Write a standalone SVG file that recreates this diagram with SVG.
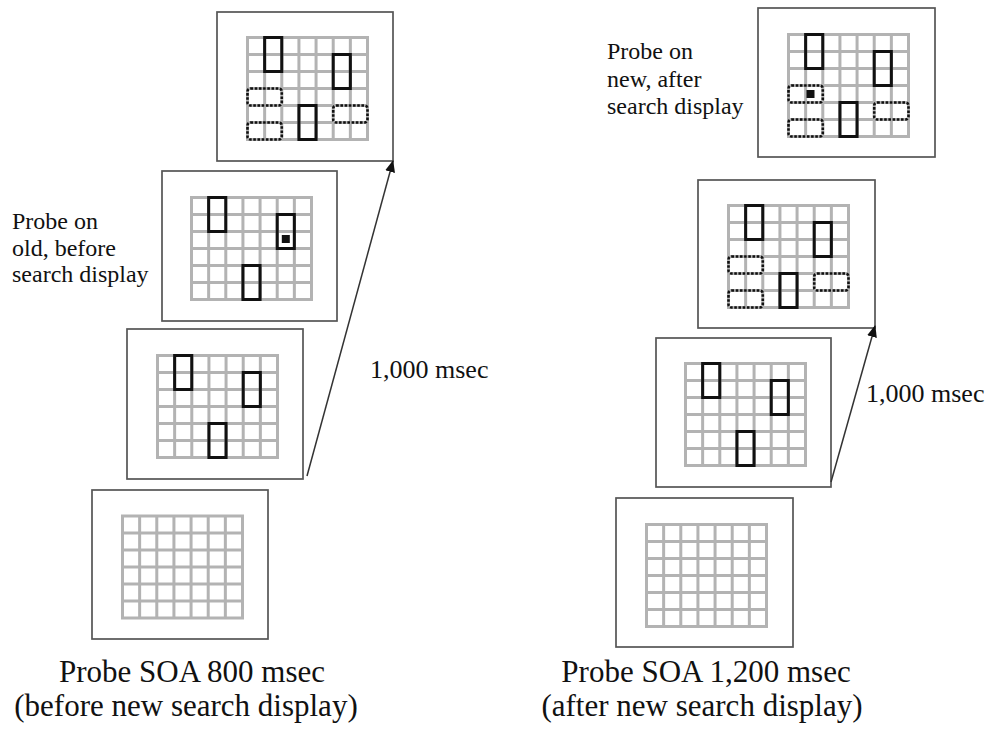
<svg xmlns="http://www.w3.org/2000/svg" xmlns:xlink="http://www.w3.org/1999/xlink" width="991" height="730" viewBox="0 0 991 730">
<style>
.frame{fill:#fff;stroke:#555;stroke-width:1.7}
.grid{fill:none;stroke:#b3b3b3;stroke-width:3}
.item{fill:none;stroke:#111;stroke-width:3}
.dot{fill:none;stroke:#111;stroke-width:2.6;stroke-dasharray:2.6 1.6}
.probe{fill:#111}
.conn{fill:none;stroke:#333;stroke-width:1.5}
text{font-family:"Liberation Serif","Times New Roman",serif;fill:#111}
.lab{font-size:24px}
.ms{font-size:26px}
.cap{font-size:31px;text-anchor:middle}
</style>
<defs>
<g id="g">
<path class="grid" d="M1.5 0V105M18.64 0V105M35.79 0V105M52.93 0V105M70.07 0V105M87.21 0V105M104.36 0V105M121.5 0V105M0 1.5H123M0 18.5H123M0 35.5H123M0 52.5H123M0 69.5H123M0 86.5H123M0 103.5H123"/>
</g>
<g id="items">
<rect class="item" x="18.64" y="1.5" width="17.14" height="34"/>
<rect class="item" x="87.21" y="18.5" width="17.14" height="34"/>
<rect class="item" x="52.93" y="69.5" width="17.14" height="34"/>
</g>
<g id="dots">
<rect class="dot" x="1.5" y="52.5" width="34.29" height="17" rx="3"/>
<rect class="dot" x="1.5" y="86.5" width="34.29" height="17" rx="3"/>
<rect class="dot" x="87.21" y="69.5" width="34.29" height="17" rx="3"/>
</g>
<marker id="ah" markerWidth="12" markerHeight="10" refX="11" refY="5" orient="auto" markerUnits="userSpaceOnUse">
<path d="M0 0L12 5L0 10Z" fill="#111"/>
</marker>
</defs>

<g id="left-blank">
<rect class="frame" x="92" y="490" width="176" height="149"/>
<use xlink:href="#g" x="121" y="514.5"/>
</g>
<g id="left-first">
<rect class="frame" x="127" y="329" width="176" height="150"/>
<use xlink:href="#g" x="156" y="354"/>
<use xlink:href="#items" x="156" y="354"/>
</g>
<g id="left-probe">
<rect class="frame" x="162" y="171" width="175" height="150"/>
<use xlink:href="#g" x="190" y="196"/>
<use xlink:href="#items" x="190" y="196"/>
<rect class="probe" x="281.8" y="235" width="8" height="8"/>
</g>
<g id="left-new">
<rect class="frame" x="217" y="12" width="176" height="149"/>
<use xlink:href="#g" x="246" y="36"/>
<use xlink:href="#items" x="246" y="36"/>
<use xlink:href="#dots" x="246" y="36"/>
</g>

<g id="right-blank">
<rect class="frame" x="616" y="498" width="177" height="149"/>
<use xlink:href="#g" x="645" y="523"/>
</g>
<g id="right-first">
<rect class="frame" x="656" y="338" width="175" height="149"/>
<use xlink:href="#g" x="684" y="362"/>
<use xlink:href="#items" x="684" y="362"/>
</g>
<g id="right-new">
<rect class="frame" x="698" y="180" width="177" height="148"/>
<use xlink:href="#g" x="727" y="204"/>
<use xlink:href="#items" x="727" y="204"/>
<use xlink:href="#dots" x="727" y="204"/>
</g>
<g id="right-probe">
<rect class="frame" x="758" y="8" width="177" height="149"/>
<use xlink:href="#g" x="787" y="33"/>
<use xlink:href="#items" x="787" y="33"/>
<use xlink:href="#dots" x="787" y="33"/>
<rect class="probe" x="806.5" y="90" width="8" height="8"/>
</g>

<g id="connectors">
<line class="conn" x1="307" y1="476" x2="393" y2="161" marker-end="url(#ah)"/>
<line class="conn" x1="831" y1="482" x2="875" y2="326" marker-end="url(#ah)"/>
</g>

<g id="labels">
<text class="lab" x="12" y="229">Probe on</text>
<text class="lab" x="12" y="256">old, before</text>
<text class="lab" x="12" y="282">search display</text>
<text class="lab" x="607" y="59">Probe on</text>
<text class="lab" x="607" y="87">new, after</text>
<text class="lab" x="607" y="114">search display</text>
<text class="ms" x="370" y="378">1,000 msec</text>
<text class="ms" x="866" y="402">1,000 msec</text>
<text class="cap" x="192" y="682">Probe SOA 800 msec</text>
<text class="cap" x="186" y="716">(before new search display)</text>
<text class="cap" x="706" y="682">Probe SOA 1,200 msec</text>
<text class="cap" x="702" y="716">(after new search display)</text>
</g>
</svg>
